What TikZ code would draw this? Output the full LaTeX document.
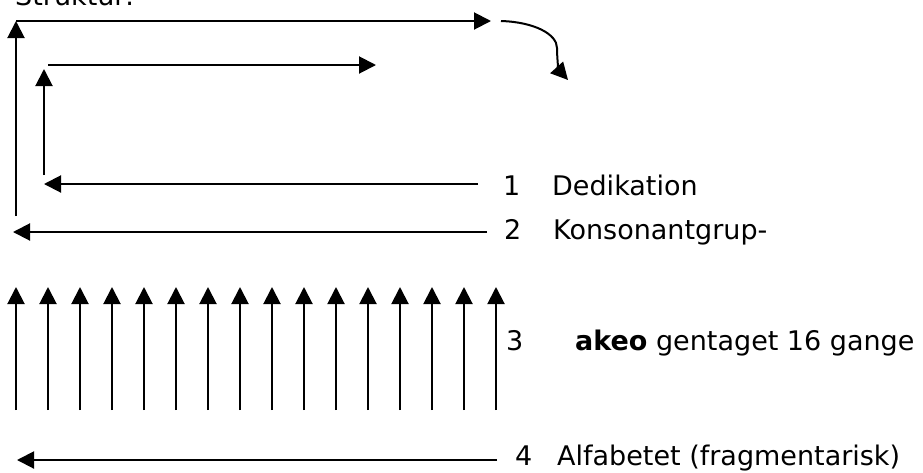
\documentclass[tikz,border=0pt]{standalone}
\usepackage{fontspec}
\setmainfont{DejaVu Sans}
\usetikzlibrary{arrows.meta, positioning}

\begin{document}
\begin{tikzpicture}[
    x=1pt, y=-1pt,
    arr/.style={-{Triangle[length=17pt, width=17pt]}, line width=2pt},
    lbl/.style={anchor=base west, inner sep=0pt, font=\fontsize{27}{30}\selectfont},
]
    \useasboundingbox (0,0) rectangle (923,472);

    \node[lbl] (title) at (15,5) {Struktur:};

    % frame
    \coordinate (outbot) at (16,216);
    \coordinate (outtop) at (16,21);
    \coordinate (outend) at (491,21);
    \coordinate (inbot) at (44,175);
    \coordinate (intop) at (44,69);
    \coordinate (inleft) at (48,65);
    \coordinate (inend) at (376,65);
    \coordinate (turnstart) at (501,21);
    \coordinate (turnend) at (568,80);

    \draw[arr] (outbot) -- (outtop);
    \draw[arr] (outtop) -- (outend);
    \draw[arr] (inbot) -- (intop);
    \draw[arr] (inleft) -- (inend);
    \draw[arr] (turnstart) .. controls (534,22) and (557,34) .. (557,48)
        .. controls (557,60) and (559,70) .. (turnend);

    % labels
    \node[lbl] (n1) at (503,195) {1};
    \node[lbl] (t1) at (552,195) {Dedikation};
    \node[lbl] (n2) at (504,239) {2};
    \node[lbl] (t2) at (553,239) {Konsonantgrup-};
    \node[lbl] (n3) at (506,350) {3};
    \node[lbl] (t3) at (575,350) {\textbf{akeo} gentaget 16 gange};
    \node[lbl] (n4) at (515,465) {4};
    \node[lbl] (t4) at (557,465) {Alfabetet (fragmentarisk)};

    \coordinate (a1start) at (478,184);
    \coordinate (a1end) at (44,184);
    \coordinate (a2start) at (487,232);
    \coordinate (a2end) at (13,232);
    \coordinate (a4start) at (497,460);
    \coordinate (a4end) at (17,460);

    \draw[arr] (a1start) -- (a1end);
    \draw[arr] (a2start) -- (a2end);
    \draw[arr] (a4start) -- (a4end);

    % 16 times akeo
    \foreach \i in {0,...,15} {
        \coordinate (up\i) at (16+32*\i,410);
        \coordinate (tip\i) at (16+32*\i,287);
        \draw[arr] (up\i) -- (tip\i);
    }
\end{tikzpicture}
\end{document}
